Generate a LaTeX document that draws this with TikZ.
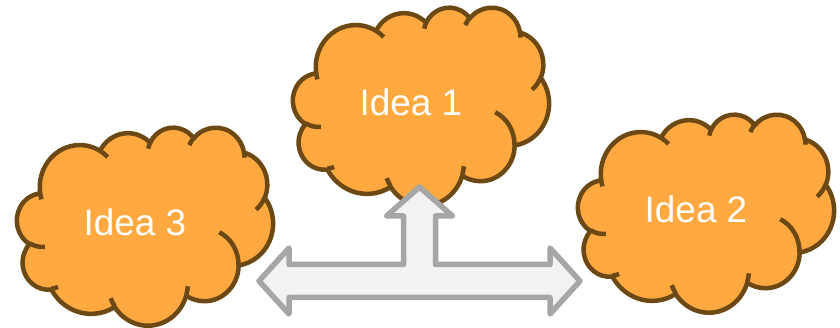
\documentclass[tikz,border=0pt]{standalone}
\usepackage{fontspec}
\setmainfont{Liberation Sans}
\usetikzlibrary{positioning}

\definecolor{cloudfill}{RGB}{255,169,64}
\definecolor{cloudedge}{RGB}{108,72,20}
\definecolor{arrowfill}{RGB}{242,242,242}
\definecolor{arrowedge}{RGB}{166,166,166}

\tikzset{
  cloudline/.style={draw=cloudedge, line width=4.5mm, line join=round},
  ideatext/.style={text=white, font=\fontsize{105}{120}\selectfont, inner sep=0pt},
  arrowshape/.style={draw=arrowedge, fill=arrowfill, line width=5.5mm, line join=round},
  pics/idea/.style={code={
    \begin{scope}[xscale=25.6/43.2, yscale=-19.8/43.2]
      % puffs of the cloud
      \path[cloudline, fill=cloudfill] (3.9,14.37)
        \foreach \rx/\ry/\sa/\da in {6.753/9.19/-190.49/123.78, 5.333/7.267/-144.10/89.95,
                                     4.365/5.945/-145.81/99.72, 4.857/6.595/-130.99/117.24,
                                     5.333/7.273/-78.71/109.03, 6.775/9.22/-46.27/130.27,
                                     5.785/7.867/0.625/114.03, 6.752/9.215/22.45/115.17,
                                     7.72/10.543/66.24/75.71, 4.36/5.918/-274.94/146.74,
                                     4.345/5.945/-246.83/152.52}
          { arc[x radius=\rx, y radius=\ry, start angle={pa(\sa,\rx,\ry)}, end angle={pa(\sa+\da,\rx,\ry)}] }
        -- cycle;
      % inner strokes
      \path[cloudline]
        \foreach \px/\py/\rx/\ry/\sa/\da in {4.693/26.177/4.345/5.945/86.74/26.43,
                                             6.928/34.899/4.36/5.918/73.61/11.45,
                                             16.478/39.09/6.752/9.215/137.62/14.08,
                                             28.827/34.751/6.752/9.215/6.45/16.0,
                                             34.129/22.954/5.785/7.867/-70.29/70.92,
                                             41.798/15.354/5.333/7.273/30.32/27.75,
                                             38.324/5.426/4.857/6.595/-13.74/14.86,
                                             29.078/3.952/4.857/6.595/-149.18/18.2,
                                             22.141/4.72/4.365/5.945/-163.49/17.69,
                                             14.0/5.192/6.753/9.19/-66.71/12.32,
                                             4.127/15.789/6.753/9.19/157.65/11.86}
          { (\px,\py) arc[x radius=\rx, y radius=\ry, start angle={pa(\sa,\rx,\ry)}, end angle={pa(\sa+\da,\rx,\ry)}] };
    \end{scope}
    \node[ideatext] (-text) at (11.8,-9.5) {#1};
  }}
}

\begin{document}
\begin{tikzpicture}[declare function={pa(\va,\vx,\vy)=\va+Mod(atan2(\vx*sin(\va),\vy*cos(\va))-\va+180,360)-180;}]
  \useasboundingbox (0,0) rectangle (84,32.8);

  \pic (i1) at (29.3,32.1) {idea=Idea 1};
  \pic (i3) at ( 1.7,20.1) {idea=Idea 3};
  \pic (i2) at (57.8,21.4) {idea=Idea 2};

  \coordinate (hub) at (41.95,4.7);

  \draw[arrowshape, shift={(hub)}]
       (-16.05, 0   ) -- (-13.05, 3.3 ) -- (-13.05, 1.65) -- (-1.6, 1.65)
    -- ( -1.6 , 6.5 ) -- ( -3.3 , 6.5 ) -- (  0   , 9.4 ) -- ( 3.3, 6.5 )
    -- (  1.6 , 6.5 ) -- (  1.6 , 1.65) -- ( 13.05, 1.65) -- (13.05, 3.3)
    -- ( 16.05, 0   ) -- ( 13.05,-3.3 ) -- ( 13.05,-1.65) -- (-13.05,-1.65)
    -- (-13.05,-3.3 ) -- cycle;

\end{tikzpicture}
\end{document}
